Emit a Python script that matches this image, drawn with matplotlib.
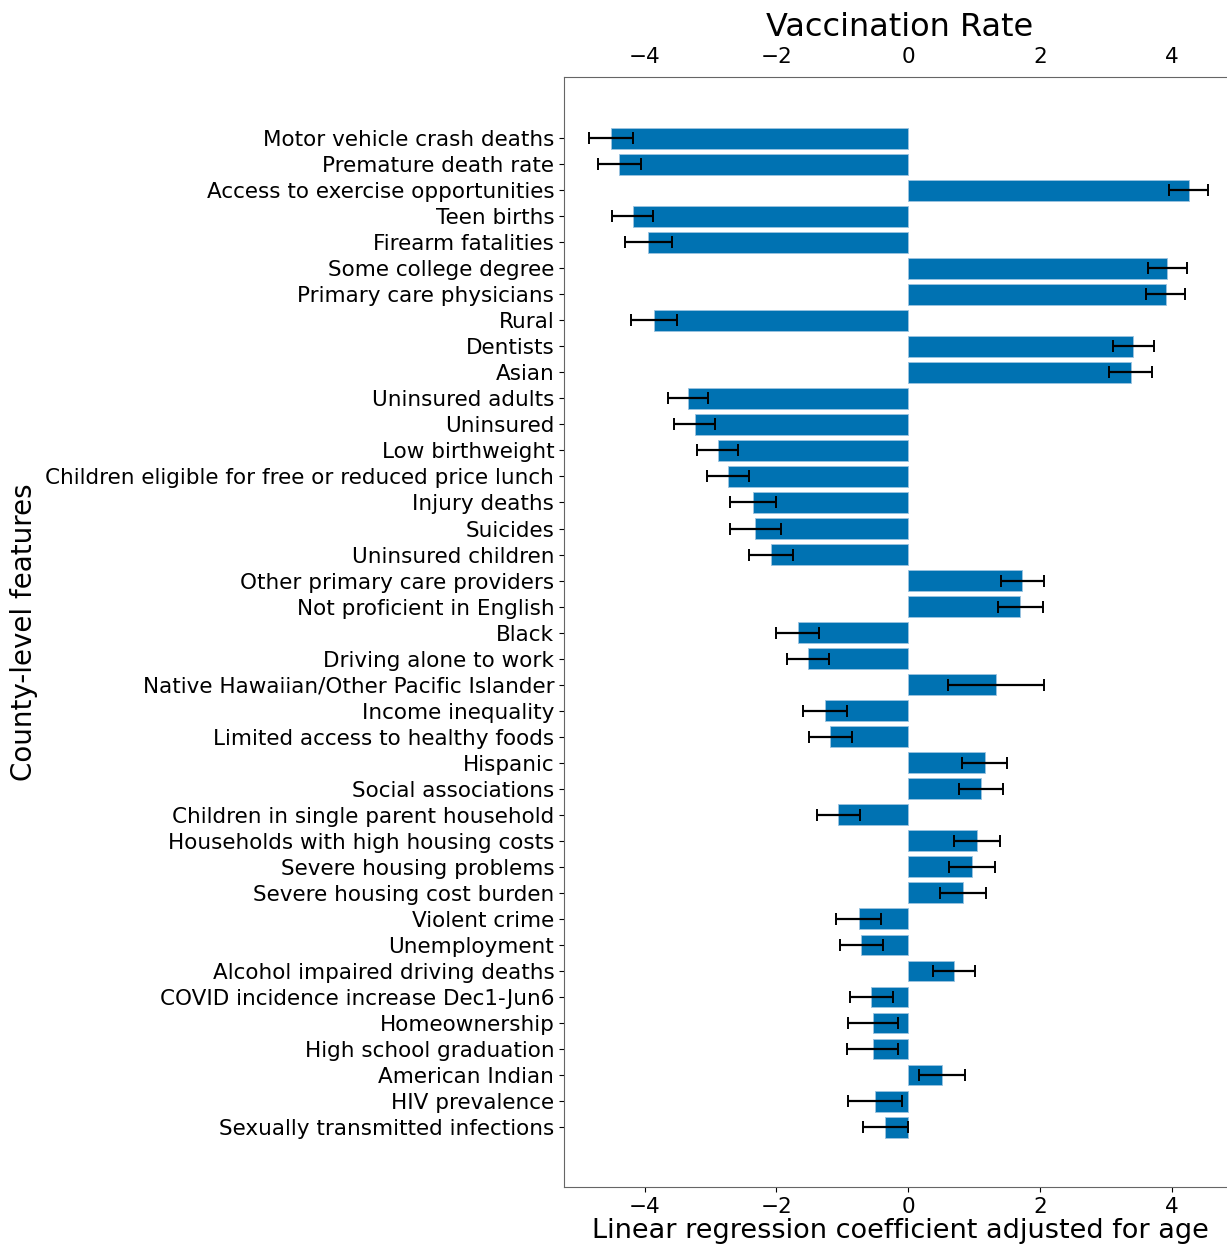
import matplotlib.pyplot as plt

features = [
    "Motor vehicle crash deaths", "Premature death rate", "Access to exercise opportunities",
    "Teen births", "Firearm fatalities", "Some college degree", "Primary care physicians",
    "Rural", "Dentists", "Asian", "Uninsured adults", "Uninsured", "Low birthweight",
    "Children eligible for free or reduced price lunch", "Injury deaths", "Suicides",
    "Uninsured children", "Other primary care providers", "Not proficient in English",
    "Black", "Driving alone to work", "Native Hawaiian/Other Pacific Islander",
    "Income inequality", "Limited access to healthy foods", "Hispanic", "Social associations",
    "Children in single parent household", "Households with high housing costs",
    "Severe housing problems", "Severe housing cost burden", "Violent crime", "Unemployment",
    "Alcohol impaired driving deaths", "COVID incidence increase Dec1-Jun6", "Homeownership",
    "High school graduation", "American Indian", "HIV prevalence",
    "Sexually transmitted infections",
]

coefs = [
    -4.51, -4.38, 4.25, -4.18, -3.94, 3.93, 3.90, -3.86, 3.41, 3.37,
    -3.34, -3.24, -2.89, -2.73, -2.35, -2.32, -2.08, 1.73, 1.70, -1.68,
    -1.52, 1.33, -1.26, -1.18, 1.16, 1.10, -1.06, 1.04, 0.97, 0.83,
    -0.75, -0.71, 0.69, -0.56, -0.54, -0.54, 0.51, -0.50, -0.35,
]

errors = [
    0.33, 0.32, 0.30, 0.31, 0.35, 0.29, 0.29, 0.35, 0.31, 0.33,
    0.31, 0.31, 0.31, 0.32, 0.35, 0.39, 0.33, 0.32, 0.34, 0.33,
    0.32, 0.73, 0.33, 0.33, 0.34, 0.33, 0.32, 0.35, 0.35, 0.35,
    0.34, 0.33, 0.32, 0.33, 0.38, 0.39, 0.35, 0.41, 0.34,
]

fig = plt.figure(figsize=(12.27, 12.45), dpi=100)
ax = fig.add_axes([0.4597, 0.0466, 0.5477, 0.8916])

ypos = list(range(len(features)))
ax.barh(ypos, coefs, height=0.8, color="#0072B2", edgecolor="#9cc3e0", linewidth=0.6,
        xerr=errors, error_kw=dict(ecolor="black", elinewidth=1.6, capsize=4, capthick=1.4))

ax.set_yticks(ypos)
ax.set_yticklabels(features, fontsize=15.5)
ax.set_ylim(len(features) - 1 + 2.3, -2.35)
ax.set_xlim(-5.22, 4.97)
ax.set_xticks([-4, -2, 0, 2, 4])
ax.tick_params(axis="x", labelsize=15.5, top=False, labeltop=True)
ax.set_xlabel("Linear regression coefficient adjusted for age", fontsize=19.5, labelpad=1)
ax.set_ylabel("County-level features", fontsize=20)
ax.yaxis.set_label_coords(-0.783, 0.5)
ax.set_title("Vaccination Rate", fontsize=23, pad=8)

for s in ax.spines.values():
    s.set_color("#666666")

fig.savefig("out.png", dpi=100)
